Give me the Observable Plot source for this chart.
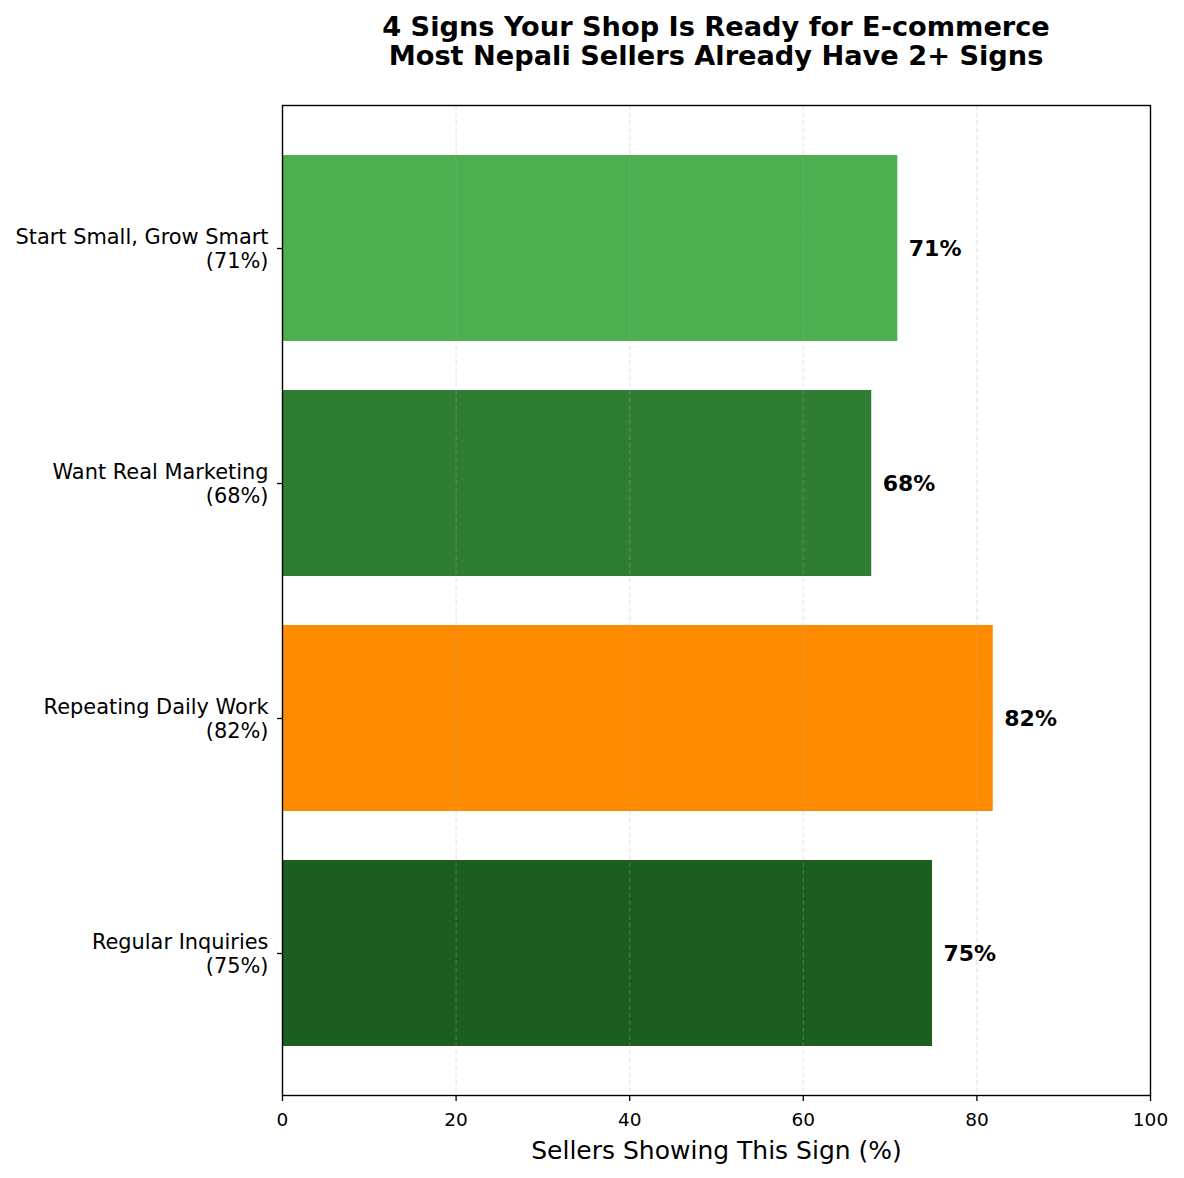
<!DOCTYPE html>
<html>
<head>
<meta charset="utf-8">
<script src="https://cdn.jsdelivr.net/npm/d3@7"></script>
<script src="https://cdn.jsdelivr.net/npm/@observablehq/plot@0.6"></script>
<style>
  html, body { margin: 0; padding: 0; background: #fff; }
  body { width: 1184px; font-family: "DejaVu Sans", sans-serif; }
  #title {
    box-sizing: border-box;
    height: 80px;
    padding: 12px 34px 0 282px;
    text-align: center;
    font-weight: bold;
    font-size: 27.2px;
    line-height: 29px;
    color: #000;
  }
  svg { display: block; }
</style>
</head>
<body>
<div id="title">4 Signs Your Shop Is Ready for E-commerce<br>Most Nepali Sellers Already Have 2+ Signs</div>
<div id="chart"></div>
<script>
const categories = ["Start Small, Grow Smart", "Want Real Marketing", "Repeating Daily Work", "Regular Inquiries"];
const values = [71, 68, 82, 75];
const colors = ["#4CAF50", "#2E7D32", "#FF8C00", "#1B5E20"];
const xTicks = [0, 20, 40, 60, 80, 100];
const gridTicks = [20, 40, 60, 80];
const xLabel = "Sellers Showing This Sign (%)";

const data = categories.map((c, i) => ({category: c, value: values[i], color: colors[i]}));
const labelOf = new Map(data.map(d => [d.category, `${d.category}\n(${d.value}%)`]));

const chart = Plot.plot({
  width: 1184,
  height: 1098,
  marginTop: 25,
  marginBottom: 83,
  marginLeft: 282,
  marginRight: 34,
  style: {fontFamily: "DejaVu Sans, sans-serif", color: "#000", background: "#fff"},
  x: {domain: [0, 100]},
  y: {domain: categories, padding: 0.2},
  marks: [
    Plot.barX(data, {x1: 0, x2: "value", y: "category", fill: "color", stroke: "#fff", strokeWidth: 2}),
    Plot.ruleX(gridTicks, {stroke: "#b0b0b0", strokeOpacity: 0.3, strokeWidth: 1.2, strokeDasharray: "5,2.5"}),
    Plot.text(data, {x: "value", y: "category", text: d => `${d.value}%`, dx: 10, textAnchor: "start", fontWeight: "bold", fontSize: 22, fill: "#000"}),
    Plot.axisX({ticks: xTicks, tickSize: 6, tickPadding: 11, fontSize: 18.5, label: null, stroke: "#000", fill: "#000", strokeWidth: 1.3}),
    Plot.axisY({tickSize: 5, tickPadding: 9, fontSize: 20.9, lineHeight: 1.15, label: null, tickFormat: d => labelOf.get(d), stroke: "#000", fill: "#000", strokeWidth: 1.3}),
    Plot.text([xLabel], {frameAnchor: "bottom", dy: 63, fontSize: 25, fill: "#000"}),
    Plot.frame({stroke: "#000", strokeWidth: 1.4})
  ]
});
document.getElementById("chart").appendChild(chart);
</script>
</body>
</html>
